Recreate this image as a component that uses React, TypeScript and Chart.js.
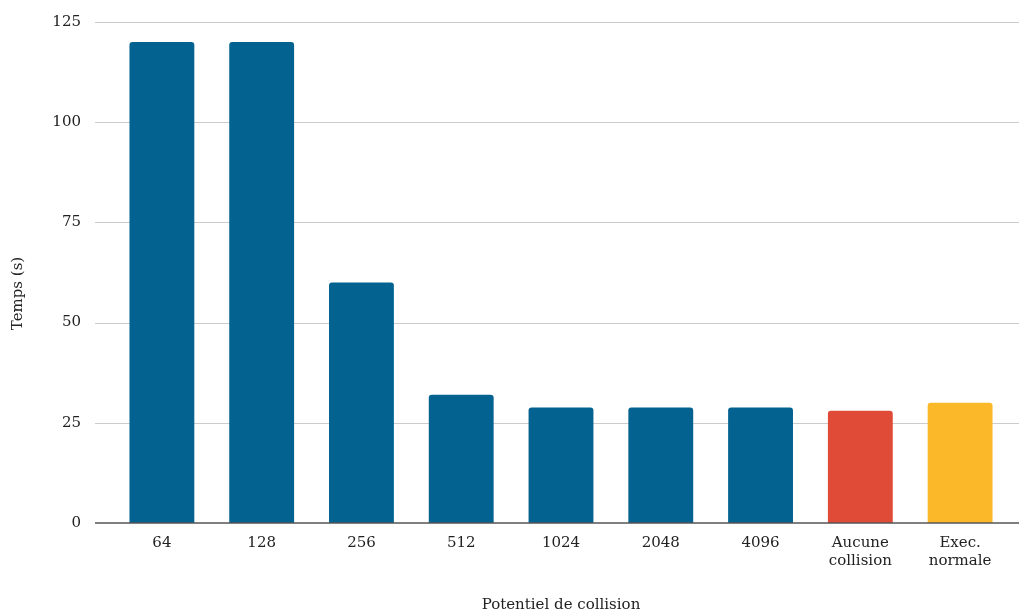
import React, { useEffect, useRef } from "react";
import { Chart, registerables } from "chart.js";

Chart.register(...registerables);

const categories: (string | string[])[] = ["64", "128", "256", "512", "1024", "2048", "4096", ["Aucune", "collision"], ["Exec.", "normale"]];
const values = [120, 120, 60, 32, 28.8, 28.8, 28.8, 28, 30];
const barColors = ["#03628F", "#03628F", "#03628F", "#03628F", "#03628F", "#03628F", "#03628F", "#E04B38", "#FBB829"];
const yTicks = [0, 25, 50, 75, 100, 125];
const yTitle = "Temps (s)";
const xTitle = "Potentiel de collision";

const FONT = "'DejaVu Serif', serif";

const gridPlugin = {
  id: "fullGrid",
  beforeDatasetsDraw(chart: any) {
    const ctx = chart.ctx;
    const y = chart.scales.y;
    const left = chart.chartArea.left - 17;
    const right = chart.width;
    ctx.save();
    ctx.strokeStyle = "#CCCCCC";
    ctx.lineWidth = 1;
    yTicks.forEach((t) => {
      if (t === 0) return;
      const py = Math.round(y.getPixelForValue(t)) + 0.5;
      ctx.beginPath();
      ctx.moveTo(left, py);
      ctx.lineTo(right, py);
      ctx.stroke();
    });
    ctx.restore();
  },
  afterDatasetsDraw(chart: any) {
    const ctx = chart.ctx;
    const y = chart.scales.y;
    const left = chart.chartArea.left - 17;
    const right = chart.width;
    const py = y.getPixelForValue(0);
    ctx.save();
    ctx.strokeStyle = "#555555";
    ctx.lineWidth = 1.5;
    ctx.beginPath();
    ctx.moveTo(left, py);
    ctx.lineTo(right, py);
    ctx.stroke();
    ctx.restore();
    // y axis title
    ctx.save();
    ctx.fillStyle = "#222";
    ctx.font = `15px ${FONT}`;
    ctx.textAlign = "center";
    ctx.textBaseline = "middle";
    ctx.translate(18, (chart.chartArea.top + chart.chartArea.bottom) / 2 + 21);
    ctx.rotate(-Math.PI / 2);
    ctx.fillText(yTitle, 0, 0);
    ctx.restore();
  },
};

export default function App() {
  const ref = useRef<HTMLCanvasElement>(null);
  useEffect(() => {
    if (!ref.current) return;
    const chart = new Chart(ref.current, {
      type: "bar",
      data: {
        labels: categories,
        datasets: [
          {
            data: values,
            backgroundColor: barColors,
            borderRadius: 3,
            borderSkipped: "bottom",
            barPercentage: 0.65,
            categoryPercentage: 1,
          },
        ],
      },
      plugins: [gridPlugin],
      options: {
        animation: false,
        responsive: false,
        layout: { padding: { top: 22, right: 9, left: 0, bottom: 0 } },
        plugins: { legend: { display: false }, tooltip: { enabled: false } },
        scales: {
          x: {
            grid: { display: false, drawTicks: false },
            border: { display: false },
            ticks: { color: "#222", font: { family: FONT, size: 15 }, padding: 11, maxRotation: 0, autoSkip: false },
            title: { display: true, text: xTitle, color: "#222", font: { family: FONT, size: 15 }, padding: { top: 0, bottom: 1 } },
            afterFit: (s: any) => { s.height = 92; },
          },
          y: {
            min: 0,
            max: 125,
            afterBuildTicks: (s: any) => { s.ticks = yTicks.map((v) => ({ value: v })); },
            grid: { display: false, drawTicks: true, tickLength: 31 },
            border: { display: false },
            ticks: { color: "#222", font: { family: FONT, size: 15 }, padding: 0 },
            title: { display: false },
            afterFit: (s: any) => { s.width = 112; },
          },
        },
      },
    });
    return () => chart.destroy();
  }, []);
  return (
    <div style={{ position: "absolute", left: 0, top: 0, width: 1019, height: 615, background: "#fff" }}>
      <canvas ref={ref} width={1019} height={615} />
    </div>
  );
}
